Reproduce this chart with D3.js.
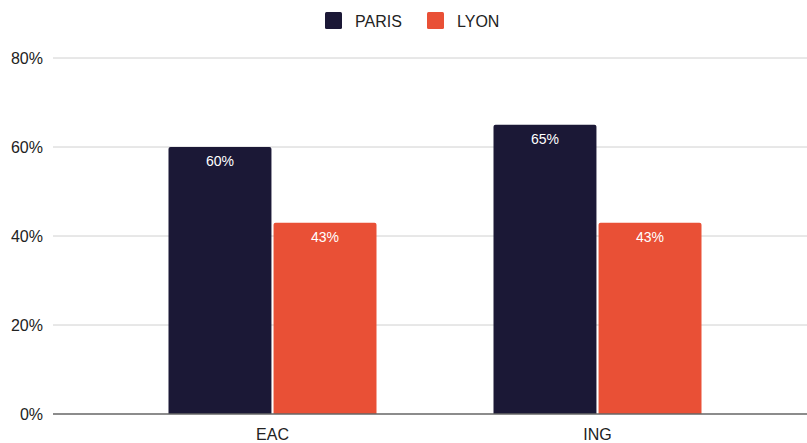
<!DOCTYPE html>
<html>
<head>
<meta charset="utf-8">
<script src="https://cdn.jsdelivr.net/npm/d3@7"></script>
<style>
  body { margin: 0; background: #fff; }
  text { font-family: "Liberation Sans", Arial, sans-serif; }
</style>
</head>
<body>
<svg id="chart"></svg>
<script>
const categories = ["EAC", "ING"];
const seriesNames = ["PARIS", "LYON"];
const paris = [60, 65];
const lyon = [43, 43];
const yTicks = [0, 20, 40, 60, 80];
const colors = ["#1b1836", "#e95036"];

const w = 807, h = 443;
const svg = d3.select("#chart").attr("width", w).attr("height", h);

const x0 = d3.scaleBand().domain(categories).range([110, 760])
  .paddingInner(0.36).paddingOuter(0.18);
const x1 = d3.scaleBand().domain(seriesNames).range([0, x0.bandwidth()]).paddingInner(0.02);
const y = d3.scaleLinear().domain([0, 80]).range([414, 58]);

// gridlines
svg.append("g")
  .selectAll("line")
  .data(yTicks.slice(1))
  .join("line")
  .attr("x1", 53).attr("x2", w)
  .attr("y1", d => y(d)).attr("y2", d => y(d))
  .attr("stroke", "#d0d0d0").attr("stroke-width", 1);

// y labels
svg.append("g")
  .selectAll("text")
  .data(yTicks)
  .join("text")
  .attr("x", 43)
  .attr("y", d => y(d) + 6)
  .attr("text-anchor", "end")
  .attr("font-size", 16)
  .attr("fill", "#222")
  .text(d => d + "%");

const rows = categories.map((c, i) => ({ cat: c, vals: [paris[i], lyon[i]] }));

function topRounded(x, yTop, bw, yBot, r) {
  return `M${x},${yBot}V${yTop + r}Q${x},${yTop} ${x + r},${yTop}H${x + bw - r}Q${x + bw},${yTop} ${x + bw},${yTop + r}V${yBot}Z`;
}

const groups = svg.append("g")
  .selectAll("g")
  .data(rows)
  .join("g")
  .attr("transform", d => `translate(${x0(d.cat)},0)`);

groups.selectAll("path")
  .data(d => d.vals.map((v, i) => ({ s: seriesNames[i], v, i })))
  .join("path")
  .attr("d", d => topRounded(x1(d.s), y(d.v), x1.bandwidth(), y(0), 2))
  .attr("fill", d => colors[d.i]);

groups.selectAll("text")
  .data(d => d.vals.map((v, i) => ({ s: seriesNames[i], v, i })))
  .join("text")
  .attr("x", d => x1(d.s) + x1.bandwidth() / 2)
  .attr("y", d => y(d.v) + 19)
  .attr("text-anchor", "middle")
  .attr("font-size", 14)
  .attr("fill", "#fff")
  .text(d => d.v + "%");

// baseline
svg.append("line")
  .attr("x1", 53).attr("x2", w)
  .attr("y1", y(0)).attr("y2", y(0))
  .attr("stroke", "#666").attr("stroke-width", 1.5);

// x labels
svg.append("g")
  .selectAll("text")
  .data(categories)
  .join("text")
  .attr("x", d => x0(d) + x0.bandwidth() / 2)
  .attr("y", 440)
  .attr("text-anchor", "middle")
  .attr("font-size", 16)
  .attr("fill", "#222")
  .text(d => d);

// legend
const legendX = [325, 427];
const legend = svg.append("g")
  .selectAll("g")
  .data(seriesNames)
  .join("g")
  .attr("transform", (d, i) => `translate(${legendX[i]},12)`);
legend.append("rect")
  .attr("width", 17).attr("height", 17).attr("rx", 1.5)
  .attr("fill", (d, i) => colors[i]);
legend.append("text")
  .attr("x", 30).attr("y", 15)
  .attr("font-size", 16)
  .attr("fill", "#222")
  .text(d => d);
</script>
</body>
</html>
